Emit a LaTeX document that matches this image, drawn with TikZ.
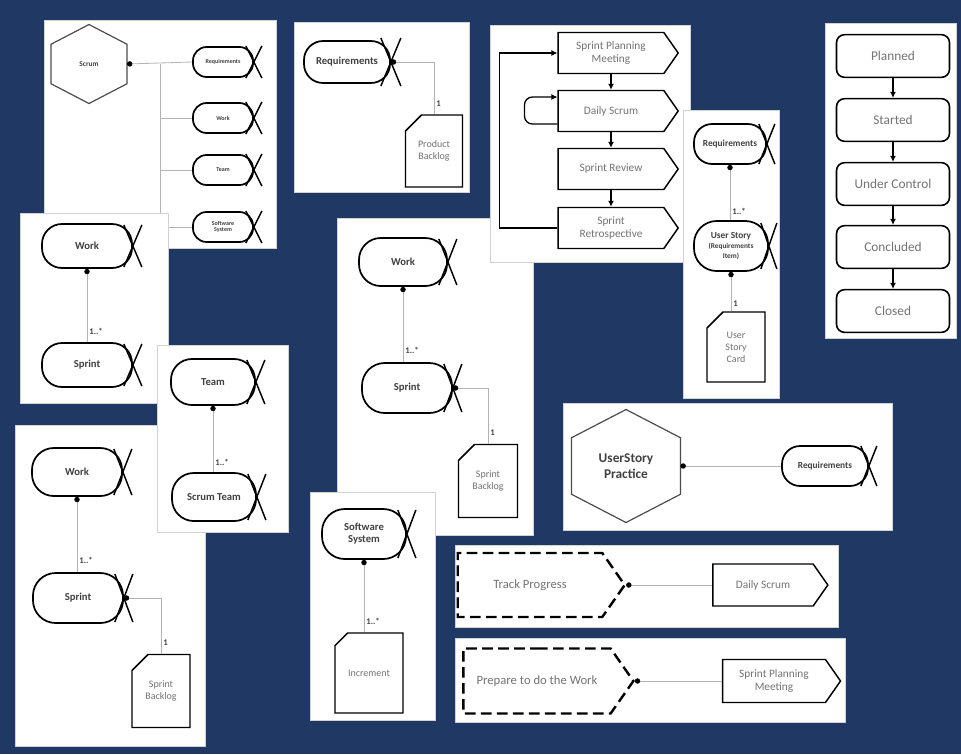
\documentclass[tikz,border=0pt]{standalone}
\usepackage{fontspec}
\setmainfont{Carlito}
\usetikzlibrary{shapes.symbols, shapes.misc, arrows.meta, calc}

\definecolor{navy}{RGB}{31,56,100}
\definecolor{ink}{RGB}{64,64,64}
\definecolor{soft}{RGB}{115,115,115}

\tikzset{every picture/.style={line width=0.75pt}}
\tikzset{
  panel/.style={fill=white, draw=gray!35, line width=0.6pt},
  alphanode/.style 2 args={draw, line width=1.3pt, rounded corners=#2*0.34pt,
    minimum width=#1*0.75pt, minimum height=#2*0.75pt, inner sep=0pt,
    align=center, text=ink, font=\fontsize{8}{9}\selectfont\bfseries},
  smallalpha/.style={font=\fontsize{4.5}{5}\selectfont\bfseries},
  workprod/.style 2 args={chamfered rectangle, chamfered rectangle corners=north west,
    chamfered rectangle xsep=6pt, chamfered rectangle ysep=6pt, draw, line width=1.1pt,
    minimum width=#1*0.75pt, minimum height=#2*0.75pt, inner sep=1pt,
    align=center, text=soft, font=\fontsize{7.5}{9}\selectfont},
  activity/.style 2 args={signal, signal to=east, signal pointer angle=110, draw,
    line width=1.1pt, minimum width=#1*0.75pt, minimum height=#2*0.75pt, inner sep=1pt,
    align=center, text=soft, font=\fontsize{8.5}{10}\selectfont},
  actspace/.style 2 args={activity={#1}{#2}, dashed, line width=1.8pt,
    dash pattern=on 8pt off 4pt, font=\fontsize{9.5}{11}\selectfont},
  practicebox/.style 2 args={minimum width=#1*0.75pt, minimum height=#2*0.75pt,
    inner sep=0pt, align=center, text=ink},
  lifestate/.style={draw, line width=1.2pt, rounded corners=6pt, minimum width=84.75pt,
    minimum height=32pt, text=soft, font=\fontsize{10}{12}\selectfont},
  link/.style={draw=gray!60, line width=0.6pt},
  dotlink/.style={link, {Circle[length=4pt, color=black]}-},
  flow/.style={line width=1pt, -{Latex[length=4.5pt, width=4.5pt]}},
  mult/.style={font=\fontsize{6.5}{7}\selectfont\bfseries, text=ink, inner sep=1.5pt},
}

% tail of an alpha: two crossing strokes at its east end
\newcommand{\alphatail}[3]{%
  \draw[line width=1.1pt] ($(#1.east)+(-#2,-#3)$) -- ($(#1.east)+(#2,#3)$)
    ($(#1.east)+(-#2,#3)$) -- ($(#1.east)+(#2,-#3)$);}
% hexagon round a practice node
\newcommand{\hexborder}[1]{%
  \draw[line width=0.9pt, draw=gray!60!black] (#1.north)
    -- ($(#1.north east)!.25!(#1.south east)$) -- ($(#1.north east)!.75!(#1.south east)$)
    -- (#1.south) -- ($(#1.south west)!.25!(#1.north west)$)
    -- ($(#1.south west)!.75!(#1.north west)$) -- cycle;}

\begin{document}
\begin{tikzpicture}[x=0.75pt,y=0.75pt,yscale=-1,xscale=1]
\fill[navy] (0,0) rectangle (961,754);

% Scrum practice
\draw[panel] (44,20) rectangle (276,248);
\node[practicebox={75}{78}, font=\fontsize{5.5}{6}\selectfont\bfseries] (scrum) at (89,64) {Scrum};
\hexborder{scrum}
\node[alphanode={60}{30}, smallalpha] (reqA) at (223,62) {Requirements};
\node[alphanode={60}{30}, smallalpha] (workA) at (223,118) {Work};
\node[alphanode={60}{30}, smallalpha] (teamA) at (223,170) {Team};
\node[alphanode={60}{30}, smallalpha] (sysA) at (223,227) {Software\\System};
\alphatail{reqA}{8}{16} \alphatail{workA}{8}{16} \alphatail{teamA}{8}{16} \alphatail{sysA}{8}{16}
\coordinate (trunk) at ($(scrum.east)+(33,0)$);
\draw[dotlink] (scrum.east) -- (reqA.west);
\draw[link] (trunk) -- (trunk |- sysA.west) -- (sysA.west);
\draw[link] (trunk |- workA.west) -- (workA.west);
\draw[link] (trunk |- teamA.west) -- (teamA.west);

% Work - Sprint
\draw[panel] (20,213) rectangle (168,403);
\node[alphanode={90}{44}] (workB) at (87,246) {Work};
\node[alphanode={90}{44}] (sprintB) at (87,365) {Sprint};
\alphatail{workB}{9}{21} \alphatail{sprintB}{9}{21}
\draw[dotlink] (workB.south) -- (sprintB.north) node[mult, pos=0.85, right] {1..*};

% Work - Sprint - Sprint Backlog
\draw[panel] (15,425) rectangle (205,746);
\node[alphanode={90}{48}] (workF) at (77,472) {Work};
\node[alphanode={90}{50}] (sprintF) at (78,598) {Sprint};
\alphatail{workF}{9}{23} \alphatail{sprintF}{9}{24}
\node[workprod={58}{73}] (backlogF) at (161,691) {Sprint\\Backlog};
\draw[dotlink] (workF.south) -- (workF.south |- sprintF.north) node[mult, pos=0.85, right] {1..*};
\draw[dotlink] (sprintF.east) -| (backlogF.north) node[mult, pos=0.9, right] {1};

% Team - Scrum Team
\draw[panel] (157,345) rectangle (288,532);
\node[alphanode={84}{46}] (teamG) at (213,382) {Team};
\node[alphanode={84}{48}] (scrumteamG) at (214,497) {Scrum Team};
\alphatail{teamG}{9}{22} \alphatail{scrumteamG}{9}{23}
\draw[dotlink] (teamG.south) -- (teamG.south |- scrumteamG.north) node[mult, pos=0.85, right] {1..*};

% Requirements - Product Backlog
\draw[panel] (294,22) rectangle (469,192);
\node[alphanode={86}{42}] (reqH) at (347,62) {Requirements};
\alphatail{reqH}{10}{24}
\node[workprod={57}{72}] (productH) at (434,151) {Product\\Backlog};
\draw[dotlink] (reqH.east) -| (productH.north) node[mult, pos=0.9, right] {1};

% Work - Sprint - Sprint Backlog (large)
\draw[panel] (337,218) rectangle (533,535);
\node[alphanode={88}{48}] (workJ) at (403,262) {Work};
\node[alphanode={90}{50}] (sprintJ) at (407,388) {Sprint};
\alphatail{workJ}{9}{23} \alphatail{sprintJ}{9}{24}
\node[workprod={59}{73}] (backlogJ) at (488,481) {Sprint\\Backlog};
\draw[dotlink] (workJ.south) -- (workJ.south |- sprintJ.north) node[mult, pos=0.85, right] {1..*};
\draw[dotlink] (sprintJ.east) -| (backlogJ.north) node[mult, pos=0.9, right] {1};

% Sprint activities
\draw[panel] (490,25) rectangle (690,262);
\node[activity={120}{41}] (planC) at (611,53) {Sprint Planning\\Meeting};
\node[activity={120}{41}] (dailyC) at (611,111) {Daily Scrum};
\node[activity={120}{41}] (reviewC) at (611,169) {Sprint Review};
\node[activity={120}{41}] (retroC) at (611,228) {Sprint\\Retrospective};
\draw[flow] (planC.south) -- (dailyC.north);
\draw[flow] (dailyC.south) -- (reviewC.north);
\draw[flow] (reviewC.south) -- (retroC.north);
\draw[flow] (retroC.west) -- ++(-58,0) |- (planC.west);
\draw[flow, rounded corners=6] ($(dailyC.west)+(0,13)$) -- ++(-33,0) -- ++(0,-27) -- ($(dailyC.west)+(0,-14)$);

% Requirements - User Story - Card
\draw[panel] (683,110) rectangle (779,398);
\node[alphanode={72}{40}, font=\fontsize{7}{8}\selectfont\bfseries] (reqK) at (730,144) {Requirements};
\node[alphanode={74}{50}, font=\fontsize{7}{7.5}\selectfont\bfseries] (storyK) at (731,246)
  {User Story\\{\fontsize{5.5}{6.5}\selectfont(Requirements}\\{\fontsize{5.5}{6.5}\selectfont Item)}};
\alphatail{reqK}{8}{20} \alphatail{storyK}{8}{23}
\node[workprod={58}{70}] (cardK) at (736,347) {User\\Story\\Card};
\draw[dotlink] (reqK.south) -- (reqK.south |- storyK.north) node[mult, pos=0.85, right] {1..*};
\draw[dotlink] (storyK.south) -- (storyK.south |- cardK.north) node[mult, pos=0.8, right] {1};

% Sprint states
\draw[panel] (825,23) rectangle (956,338);
\node[lifestate] (plannedL) at (893,56) {Planned};
\node[lifestate] (startedL) at (893,120) {Started};
\node[lifestate] (controlL) at (893,184) {Under Control};
\node[lifestate] (concludedL) at (893,247) {Concluded};
\node[lifestate] (closedL) at (893,311) {Closed};
\draw[flow] (plannedL) -- (startedL);
\draw[flow] (startedL) -- (controlL);
\draw[flow] (controlL) -- (concludedL);
\draw[flow] (concludedL) -- (closedL);

% Software System - Increment
\draw[panel] (310,492) rectangle (435,720);
\node[alphanode={84}{50}] (systemM) at (364,534) {Software\\System};
\alphatail{systemM}{9}{24}
\node[workprod={68}{80}] (incrementM) at (369,673) {Increment};
\draw[dotlink] (systemM.south) -- (systemM.south |- incrementM.north) node[mult, pos=0.85, right] {1..*};

% UserStory practice
\draw[panel] (563,403) rectangle (892,530);
\node[practicebox={108}{112}, font=\fontsize{10}{12}\selectfont\bfseries] (storyP) at (626,466) {UserStory\\Practice};
\hexborder{storyP}
\node[alphanode={86}{40}, font=\fontsize{7}{8}\selectfont\bfseries] (reqP) at (825,466) {Requirements};
\alphatail{reqP}{8}{20}
\draw[dotlink] (storyP.east) -- (reqP.west);

% Track Progress
\draw[panel] (455,545) rectangle (838,627);
\node[actspace={167}{64}] (trackQ) at (530,585) {Track Progress};
\node[activity={115}{42}] (dailyQ) at (763,585) {Daily Scrum};
\draw[dotlink] (trackQ.east) -- (dailyQ.west);

% Prepare to do the Work
\draw[panel] (455,638) rectangle (845,722);
\node[actspace={170}{65}] (prepareR) at (537,681) {Prepare to do the Work};
\node[activity={118}{43}] (planR) at (774,681) {Sprint Planning\\Meeting};
\draw[dotlink] (prepareR.east) -- (planR.west);

\end{tikzpicture}
\end{document}
